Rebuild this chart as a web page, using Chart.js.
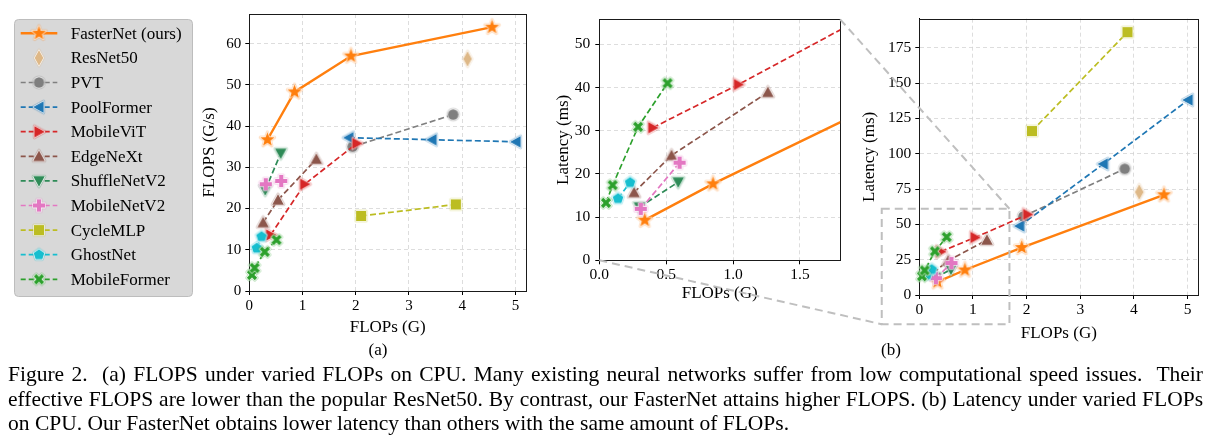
<!DOCTYPE html>
<html><head><meta charset="utf-8">
<script src="https://cdn.jsdelivr.net/npm/chart.js@4.4.1/dist/chart.umd.min.js"></script>
<style>
html,body{margin:0;padding:0;background:#fff;width:1211px;height:446px;overflow:hidden;position:relative;}
canvas{position:absolute;}
.lbl{position:absolute;font-family:'Liberation Serif','Times New Roman',serif;font-size:17px;color:#000;transform:translate(-50%,-50%);white-space:nowrap;}
#cap{position:absolute;left:8px;top:362px;width:1195px;font-family:'Liberation Serif','Times New Roman',serif;font-size:21.5px;line-height:24.5px;color:#000;}
#cap .j{text-align:justify;text-align-last:justify;white-space:nowrap;}
#cap .l{text-align:left;white-space:nowrap;}
</style></head><body>
<canvas id="ca" width="536" height="345" style="left:0;top:0"></canvas>
<canvas id="cb" width="310" height="305" style="left:540px;top:0"></canvas>
<canvas id="cc" width="361" height="345" style="left:850px;top:0"></canvas>
<canvas id="ov" width="1211" height="446" style="left:0;top:0;pointer-events:none"></canvas>
<div class="lbl" style="left:378px;top:350px">(a)</div>
<div class="lbl" style="left:891px;top:350px">(b)</div>
<div id="cap">
<div class="j">Figure 2.&nbsp; (a) FLOPS under varied FLOPs on CPU. Many existing neural networks suffer from low computational speed issues.&nbsp; Their</div>
<div class="j">effective FLOPS are lower than the popular ResNet50. By contrast, our FasterNet attains higher FLOPS. (b) Latency under varied FLOPs</div>
<div class="l">on CPU. Our FasterNet obtains lower latency than others with the same amount of FLOPs.</div>
</div>
<script>
// ---------------- data ----------------
const models = ['FasterNet (ours)','ResNet50','PVT','PoolFormer','MobileViT','EdgeNeXt','ShuffleNetV2','MobileNetV2','CycleMLP','GhostNet','MobileFormer'];

const fasternetGflops   = [0.34, 0.85, 1.91, 4.56];
const fasternetThru     = [36.7, 48.3, 57.0, 64.0];
const fasternetLatency  = [9.3, 17.7, 33.6, 70.9];

const resnet50Gflops    = [4.1];
const resnet50Thru      = [56.3];
const resnet50Latency   = [72.8];

const pvtGflops         = [1.94, 3.83];
const pvtThru           = [35.0, 42.8];
const pvtLatency        = [55.6, 89.3];

const poolformerGflops  = [1.87, 3.43, 5.01];
const poolformerThru    = [37.2, 36.7, 36.2];
const poolformerLatency = [48.8, 92.7, 138.0];

const mobilevitGflops   = [0.40, 1.04, 2.02];
const mobilevitThru     = [13.6, 25.9, 35.8];
const mobilevitLatency  = [30.7, 40.7, 57.0];

const edgenextGflops    = [0.26, 0.54, 1.26];
const edgenextThru      = [16.6, 22.1, 32.0];
const edgenextLatency   = [15.7, 24.3, 38.9];

const shufflenetGflops  = [0.30, 0.59];
const shufflenetThru    = [24.5, 33.4];
const shufflenetLatency = [12.3, 18.1];

const mobilenetGflops   = [0.31, 0.60];
const mobilenetThru     = [25.9, 26.7];
const mobilenetLatency  = [11.9, 22.6];

const cyclemlpGflops    = [2.10, 3.88];
const cyclemlpThru      = [18.2, 21.0];
const cyclemlpLatency   = [116.0, 186.0];

const ghostnetGflops    = [0.14, 0.23];
const ghostnetThru      = [10.4, 13.2];
const ghostnetLatency   = [14.3, 18.0];

const mobileformerGflops  = [0.05, 0.10, 0.29, 0.51];
const mobileformerThru    = [3.9, 5.6, 9.5, 12.4];
const mobileformerLatency = [13.3, 17.4, 30.9, 41.0];

const gflopsList  = [fasternetGflops, resnet50Gflops, pvtGflops, poolformerGflops, mobilevitGflops, edgenextGflops, shufflenetGflops, mobilenetGflops, cyclemlpGflops, ghostnetGflops, mobileformerGflops];
const thruList    = [fasternetThru, resnet50Thru, pvtThru, poolformerThru, mobilevitThru, edgenextThru, shufflenetThru, mobilenetThru, cyclemlpThru, ghostnetThru, mobileformerThru];
const latencyList = [fasternetLatency, resnet50Latency, pvtLatency, poolformerLatency, mobilevitLatency, edgenextLatency, shufflenetLatency, mobilenetLatency, cyclemlpLatency, ghostnetLatency, mobileformerLatency];

// tick labels
const ticksAx = [0,1,2,3,4,5];
const ticksAy = [0,10,20,30,40,50,60];
const ticksBx = [0,0.5,1.0,1.5];
const ticksBy = [0,10,20,30,40,50];
const ticksCx = [0,1,2,3,4,5];
const ticksCy = [0,25,50,75,100,125,150,175];

// zoom indicator box (data units of the full latency plot)
const zoomBoxX = [-0.70, 1.68];
const zoomBoxY = [-20.7, 61.0];

// ---------------- styles ----------------
const FONT = "'Liberation Serif','Times New Roman',serif";
const colors  = ['#ff7f0e','#deb887','#7f7f7f','#1f77b4','#d62728','#8c564b','#2e8b57','#e377c2','#bcbd22','#17becf','#2ca02c'];
const shapes  = ['star','diamond','circle','tri_left','tri_right','tri_up','tri_down','plus','square','pentagon','x'];
const sizes   = [7.5, 7.8, 5.3, 5.8, 5.8, 5.8, 5.8, 6.0, 5.0, 5.6, 5.6];

function shapePath(g, shape, r){
  const pts = [];
  const PI = Math.PI;
  if (shape === 'circle'){ g.arc(0,0,r,0,2*PI); return; }
  if (shape === 'star'){ for(let k=0;k<10;k++){const a=-PI/2+k*PI/5; const rr=k%2? r*0.42 : r; pts.push([rr*Math.cos(a), rr*Math.sin(a)]);} }
  else if (shape === 'diamond'){ pts.push([0,-r],[0.55*r,0],[0,r],[-0.55*r,0]); }
  else if (shape === 'square'){ pts.push([-r,-r],[r,-r],[r,r],[-r,r]); }
  else if (shape === 'pentagon'){ for(let k=0;k<5;k++){const a=-PI/2+k*2*PI/5; pts.push([r*Math.cos(a), r*Math.sin(a)]);} }
  else if (shape === 'tri_up'){ pts.push([0,-r],[r,r*0.8],[-r,r*0.8]); }
  else if (shape === 'tri_down'){ pts.push([0,r],[r,-r*0.8],[-r,-r*0.8]); }
  else if (shape === 'tri_left'){ pts.push([-r,0],[r*0.8,-r],[r*0.8,r]); }
  else if (shape === 'tri_right'){ pts.push([r,0],[-r*0.8,-r],[-r*0.8,r]); }
  else if (shape === 'plus' || shape === 'x'){
    const w = shape === 'x' ? r*0.3 : r*0.34;
    const base = [[-w,-r],[w,-r],[w,-w],[r,-w],[r,w],[w,w],[w,r],[-w,r],[-w,w],[-r,w],[-r,-w],[-w,-w]];
    const a = shape === 'x' ? PI/4 : 0;
    base.forEach(p=>pts.push([p[0]*Math.cos(a)-p[1]*Math.sin(a), p[0]*Math.sin(a)+p[1]*Math.cos(a)]));
  }
  pts.forEach((p,i)=> i? g.lineTo(p[0],p[1]) : g.moveTo(p[0],p[1]));
  g.closePath();
}
function hexA(hex, a){
  const n = parseInt(hex.slice(1),16);
  return `rgba(${(n>>16)&255},${(n>>8)&255},${n&255},${a})`;
}
function makeMarker(shape, color, r){
  const s = Math.ceil(2*r + 8);
  const c = document.createElement('canvas'); c.width = s; c.height = s;
  const g = c.getContext('2d');
  g.translate(s/2, s/2);
  g.lineJoin = 'round';
  g.beginPath(); shapePath(g, shape, r);
  g.strokeStyle = hexA(color, 0.28); g.lineWidth = 3.2; g.stroke();
  g.strokeStyle = 'rgba(255,255,255,0.9)'; g.lineWidth = 1.2; g.stroke();
  g.fillStyle = color; g.fill();
  return c;
}
const markers = models.map((m,i)=>makeMarker(shapes[i], colors[i], sizes[i]));

function buildDatasets(yList, clip){
  const N = models.length;
  return models.map((name,i)=>({
    label: name,
    data: gflopsList[i].map((x,k)=>({x, y: yList[i][k]})),
    showLine: gflopsList[i].length > 1,
    borderColor: colors[i],
    backgroundColor: colors[i],
    borderWidth: i === 0 ? 2.4 : 1.7,
    borderDash: i === 0 ? [] : [6,3],
    pointStyle: markers[i],
    pointRadius: sizes[i],
    pointHoverRadius: sizes[i],
    clip: clip,
    order: N - i
  }));
}

function xScale(min, max, ticks, fmt, tickSize, tickPad, h){
  return {
    type:'linear', position:'bottom', min, max,
    afterBuildTicks: s => { s.ticks = ticks.map(v=>({value:v})); },
    afterFit: s => { s.height = h; s.paddingLeft = 0; s.paddingRight = 0; s.paddingTop = 0; s.paddingBottom = 0; },
    ticks: { callback: v => fmt(v), font:{family:FONT, size:tickSize}, color:'#000', padding: tickPad, maxRotation:0, autoSkip:false },
    grid: { color:'#d4d4d4', lineWidth:0.8, tickLength:4, tickColor:'#000', tickWidth:1, tickBorderDash:[] },
    border: { color:'#000', width:1, dash:[4,3] },
    title: { display:true, text:'FLOPs (G)', font:{family:FONT, size:17}, color:'#000', padding:{top:0, bottom:0} }
  };
}
function yScale(min, max, ticks, title, tickSize, tickPad, w){
  return {
    type:'linear', position:'left', min, max,
    afterBuildTicks: s => { s.ticks = ticks.map(v=>({value:v})); },
    afterFit: s => { s.width = w; s.paddingLeft = 0; s.paddingRight = 0; s.paddingTop = 0; s.paddingBottom = 0; },
    ticks: { callback: v => String(v), font:{family:FONT, size:tickSize}, color:'#000', padding: tickPad, autoSkip:false },
    grid: { color:'#d4d4d4', lineWidth:0.8, tickLength:4, tickColor:'#000', tickWidth:1, tickBorderDash:[] },
    border: { color:'#000', width:1, dash:[4,3] },
    title: { display:true, text:title, font:{family:FONT, size:17}, color:'#000', padding:{top:0, bottom:0} }
  };
}

const framePlugin = {
  id:'frame',
  beforeDatasetsDraw(chart){
    const a = chart.chartArea, g = chart.ctx;
    g.save(); g.strokeStyle = '#1a1a1a'; g.lineWidth = 1; g.setLineDash([]);
    g.strokeRect(Math.round(a.left)+0.5, Math.round(a.top)+0.5, Math.round(a.right-a.left), Math.round(a.bottom-a.top));
    g.restore();
  }
};

const legendPlugin = {
  id:'customLegend',
  afterDraw(chart){
    const g = chart.ctx;
    g.save();
    const bx = 14.5, by = 19.5, bw = 178, bh = 277, rr = 4;
    g.beginPath();
    g.moveTo(bx+rr,by); g.lineTo(bx+bw-rr,by); g.quadraticCurveTo(bx+bw,by,bx+bw,by+rr);
    g.lineTo(bx+bw,by+bh-rr); g.quadraticCurveTo(bx+bw,by+bh,bx+bw-rr,by+bh);
    g.lineTo(bx+rr,by+bh); g.quadraticCurveTo(bx,by+bh,bx,by+bh-rr);
    g.lineTo(bx,by+rr); g.quadraticCurveTo(bx,by,bx+rr,by); g.closePath();
    g.fillStyle = '#d8d8d8'; g.fill();
    g.strokeStyle = '#bdbdbd'; g.lineWidth = 1; g.stroke();
    g.font = `17px ${FONT}`; g.fillStyle = '#000'; g.textBaseline = 'middle'; g.textAlign = 'left';
    models.forEach((name,i)=>{
      const y = 33.3 + i*24.6;
      if (gflopsList[i].length > 1){
        g.beginPath(); g.strokeStyle = colors[i];
        g.lineWidth = i === 0 ? 2.4 : 1.7;
        g.setLineDash(i === 0 ? [] : [5,3]);
        g.moveTo(20.7, y); g.lineTo(57.3, y); g.stroke();
        g.setLineDash([]);
      }
      const m = markers[i];
      g.drawImage(m, 39 - m.width/2, y - m.height/2);
      g.fillStyle = '#000';
      g.fillText(name, 70.7, y + 1);
    });
    g.restore();
  }
};

Chart.defaults.font.family = FONT;
const common = { responsive:false, animation:false, events:[], plugins:{ legend:{display:false}, tooltip:{enabled:false} } };

// chart (a): FLOPS vs FLOPs
const chartA = new Chart(document.getElementById('ca'), {
  type:'scatter',
  data:{ datasets: buildDatasets(thruList, false) },
  options: Object.assign({}, common, {
    layout:{ padding:{ left:199.8, top:14, right:8, bottom:7 } },
    scales:{
      x: xScale(0, 5.2, ticksAx, v=>String(v), 15, 2, 47),
      y: yScale(0, 67.2, ticksAy, 'FLOPS (G/s)', 15, 4, 49.5)
    }
  }),
  plugins:[framePlugin, legendPlugin]
});

// chart (b) zoomed: latency vs FLOPs, small range
const chartB = new Chart(document.getElementById('cb'), {
  type:'scatter',
  data:{ datasets: buildDatasets(latencyList, 0) },
  options: Object.assign({}, common, {
    layout:{ padding:{ left:13.1, top:19.3, right:8.3, bottom:1.5 } },
    scales:{
      x: xScale(0, 1.8, ticksBx, v=>v.toFixed(1), 15.5, 1, 43.2),
      y: yScale(0, 55.8, ticksBy, 'Latency (ms)', 15.5, 5, 46.2)
    }
  }),
  plugins:[framePlugin]
});

// chart (b) full: latency vs FLOPs
const chartC = new Chart(document.getElementById('cc'), {
  type:'scatter',
  data:{ datasets: buildDatasets(latencyList, false) },
  options: Object.assign({}, common, {
    layout:{ padding:{ left:9.8, top:18.7, right:12.7, bottom:1.5 } },
    scales:{
      x: xScale(0, 5.2, ticksCx, v=>String(v), 15.5, 2, 48.5),
      y: yScale(0, 195.5, ticksCy, 'Latency (ms)', 15.5, 4, 59.5)
    }
  }),
  plugins:[framePlugin]
});

function drawOverlay(){
  const g = document.getElementById('ov').getContext('2d');
  g.clearRect(0,0,1211,446);
  const bLeft = 540, cLeft = 850;
  const a = chartB.chartArea;
  const sx = chartC.scales.x, sy = chartC.scales.y;
  const rx0 = cLeft + sx.getPixelForValue(zoomBoxX[0]);
  const rx1 = cLeft + sx.getPixelForValue(zoomBoxX[1]);
  const ryTop = sy.getPixelForValue(zoomBoxY[1]);
  const ryBot = sy.getPixelForValue(zoomBoxY[0]);
  g.save();
  g.strokeStyle = '#bfbfbf'; g.lineWidth = 2; g.setLineDash([8,5]);
  g.strokeRect(rx0, ryTop, rx1-rx0, ryBot-ryTop);
  g.beginPath(); g.moveTo(bLeft + a.right, a.top); g.lineTo(rx1, ryTop); g.stroke();
  g.beginPath(); g.moveTo(bLeft + a.left, a.bottom); g.lineTo(rx0, ryBot); g.stroke();
  g.restore();
}
drawOverlay();
setTimeout(drawOverlay, 50);
</script>
</body></html>
